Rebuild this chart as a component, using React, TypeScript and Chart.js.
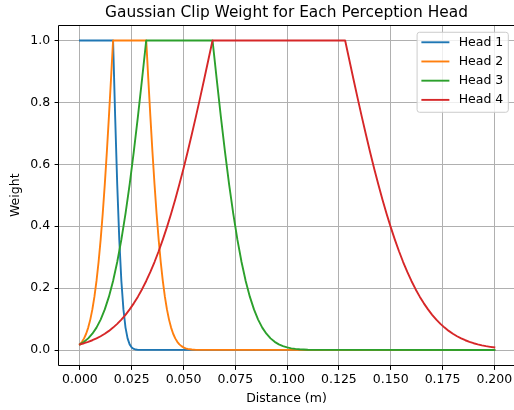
import React, { useEffect, useRef } from 'react';
import { Chart, registerables } from 'chart.js';

Chart.register(...registerables);

const chartTitle = 'Gaussian Clip Weight for Each Perception Head';
const xAxisTitle = 'Distance (m)';
const yAxisTitle = 'Weight';
const seriesLabels = ['Head 1', 'Head 2', 'Head 3', 'Head 4'];
const seriesColors = ['#1f77b4', '#ff7f0e', '#2ca02c', '#d62728'];
const xTickValues = [0, 0.025, 0.05, 0.075, 0.1, 0.125, 0.15, 0.175, 0.2];
const yTickValues = [0, 0.2, 0.4, 0.6, 0.8, 1.0];

const head1Distance = [0, 0.016, 0.017, 0.018, 0.019, 0.02, 0.021, 0.022, 0.023, 0.024, 0.025, 0.026, 0.027, 0.028, 0.2];
const head1Weight = [1, 1, 0.7548, 0.5353, 0.3566, 0.2231, 0.1312, 0.0724, 0.0376, 0.0183, 0.0084, 0.0036, 0.0015, 0.0006, 0];

const head2Distance = [
  0, 0.001, 0.002, 0.003, 0.004, 0.005, 0.006, 0.007, 0.008, 0.009, 0.01, 0.011, 0.012, 0.013, 0.014, 0.015, 0.016,
  0.032, 0.033, 0.034, 0.035, 0.036, 0.037, 0.038, 0.039, 0.04, 0.041, 0.042, 0.043, 0.044, 0.045, 0.046, 0.047,
  0.048, 0.049, 0.05, 0.051, 0.052, 0.054, 0.056, 0.2,
];
const head2Weight = [
  0.0183, 0.0264, 0.0376, 0.0526, 0.0724, 0.0982, 0.1312, 0.1724, 0.2231, 0.2843, 0.3566, 0.4403, 0.5353, 0.6406,
  0.7548, 0.8756, 1,
  1, 0.8756, 0.7548, 0.6406, 0.5353, 0.4403, 0.3566, 0.2843, 0.2231, 0.1724, 0.1312, 0.0982, 0.0724, 0.0526, 0.0376,
  0.0264, 0.0183, 0.0125, 0.0084, 0.0055, 0.0036, 0.0015, 0.0006, 0,
];

const head3Distance = [
  0, 0.002, 0.004, 0.006, 0.008, 0.01, 0.012, 0.014, 0.016, 0.018, 0.02, 0.022, 0.024, 0.026, 0.028, 0.03, 0.032,
  0.064, 0.066, 0.068, 0.07, 0.072, 0.074, 0.076, 0.078, 0.08, 0.082, 0.084, 0.086, 0.088, 0.09, 0.092, 0.094,
  0.096, 0.098, 0.1, 0.102, 0.104, 0.106, 0.108, 0.11, 0.112, 0.2,
];
const head3Weight = [
  0.0183, 0.0264, 0.0376, 0.0526, 0.0724, 0.0982, 0.1312, 0.1724, 0.2231, 0.2843, 0.3566, 0.4403, 0.5353, 0.6406,
  0.7548, 0.8756, 1,
  1, 0.8756, 0.7548, 0.6406, 0.5353, 0.4403, 0.3566, 0.2843, 0.2231, 0.1724, 0.1312, 0.0982, 0.0724, 0.0526, 0.0376,
  0.0264, 0.0183, 0.0125, 0.0084, 0.0055, 0.0036, 0.0023, 0.0015, 0.0009, 0.0006, 0,
];

const head4Distance = [
  0, 0.002, 0.004, 0.006, 0.008, 0.01, 0.012, 0.014, 0.016, 0.018, 0.02, 0.022, 0.024, 0.026, 0.028, 0.03, 0.032,
  0.034, 0.036, 0.038, 0.04, 0.042, 0.044, 0.046, 0.048, 0.05, 0.052, 0.054, 0.056, 0.058, 0.06, 0.062, 0.064,
  0.128, 0.13, 0.132, 0.134, 0.136, 0.138, 0.14, 0.142, 0.144, 0.146, 0.148, 0.15, 0.152, 0.154, 0.156, 0.158,
  0.16, 0.162, 0.164, 0.166, 0.168, 0.17, 0.172, 0.174, 0.176, 0.178, 0.18, 0.182, 0.184, 0.186, 0.188, 0.19,
  0.192, 0.194, 0.196, 0.198, 0.2,
];
const head4Weight = [
  0.0183, 0.022, 0.0264, 0.0316, 0.0376, 0.0445, 0.0526, 0.0618, 0.0724, 0.0845, 0.0982, 0.1137, 0.1312, 0.1507,
  0.1724, 0.1965, 0.2231, 0.2523, 0.2843, 0.319, 0.3566, 0.397, 0.4403, 0.4864, 0.5353, 0.5867, 0.6406, 0.6968,
  0.7548, 0.8146, 0.8756, 0.9376, 1,
  1, 0.9376, 0.8756, 0.8146, 0.7548, 0.6968, 0.6406, 0.5867, 0.5353, 0.4864, 0.4403, 0.397, 0.3566, 0.319, 0.2843,
  0.2523, 0.2231, 0.1965, 0.1724, 0.1507, 0.1312, 0.1137, 0.0982, 0.0845, 0.0724, 0.0618, 0.0526, 0.0445, 0.0376,
  0.0316, 0.0264, 0.022, 0.0183, 0.0152, 0.0125, 0.0103, 0.0084,
];

const seriesDistances = [head1Distance, head2Distance, head3Distance, head4Distance];
const seriesWeights = [head1Weight, head2Weight, head3Weight, head4Weight];

const FONT = "'DejaVu Sans', sans-serif";

const framePlugin = {
  id: 'frame',
  afterDatasetsDraw(chart: any) {
    const { ctx, chartArea: a } = chart;
    ctx.save();
    ctx.strokeStyle = '#000';
    ctx.lineWidth = 1;
    ctx.beginPath();
    const l = Math.round(a.left) - 0.5;
    const t = Math.round(a.top) + 0.5;
    const b = Math.floor(a.bottom) + 0.5;
    ctx.moveTo(a.right + 1, t);
    ctx.lineTo(l, t);
    ctx.lineTo(l, b);
    ctx.lineTo(a.right + 1, b);
    ctx.stroke();
    ctx.restore();
  },
};

const legendPlugin = {
  id: 'boxLegend',
  afterDraw(chart: any) {
    const { ctx, chartArea: a } = chart;
    const fontSize = 12.5;
    ctx.save();
    ctx.font = `${fontSize}px ${FONT}`;
    const labels = chart.data.datasets.map((d: any) => d.label);
    const textW = Math.max(...labels.map((s: string) => ctx.measureText(s).width));
    const padL = 4.3, handle = 28, gap = 9.3, padR = 5;
    const boxW = padL + handle + gap + textW + padR;
    const boxH = 80;
    const right = a.right - 5.7;
    const left = right - boxW;
    const top = a.top + 7.3;
    const r = 2.5;
    ctx.beginPath();
    ctx.moveTo(left + r, top);
    ctx.lineTo(right - r, top);
    ctx.arcTo(right, top, right, top + r, r);
    ctx.lineTo(right, top + boxH - r);
    ctx.arcTo(right, top + boxH, right - r, top + boxH, r);
    ctx.lineTo(left + r, top + boxH);
    ctx.arcTo(left, top + boxH, left, top + boxH - r, r);
    ctx.lineTo(left, top + r);
    ctx.arcTo(left, top, left + r, top, r);
    ctx.closePath();
    ctx.fillStyle = 'rgba(255,255,255,0.8)';
    ctx.fill();
    ctx.strokeStyle = '#cccccc';
    ctx.lineWidth = 1;
    ctx.stroke();
    chart.data.datasets.forEach((d: any, i: number) => {
      const cy = top + 10 + 19.2 * i;
      ctx.beginPath();
      ctx.strokeStyle = d.borderColor;
      ctx.lineWidth = 1.9;
      ctx.moveTo(left + padL, cy);
      ctx.lineTo(left + padL + handle, cy);
      ctx.stroke();
      ctx.fillStyle = '#000';
      ctx.textBaseline = 'middle';
      ctx.textAlign = 'left';
      ctx.fillText(d.label, left + padL + handle + gap, cy);
    });
    ctx.restore();
  },
};

export default function App() {
  const canvasRef = useRef<HTMLCanvasElement | null>(null);

  useEffect(() => {
    document.body.style.margin = '0';
    Chart.defaults.font.family = FONT;
    Chart.defaults.color = '#000';
    const canvas = canvasRef.current;
    if (!canvas) return;

    const datasets = seriesLabels.map((label, i) => ({
      label,
      data: seriesDistances[i].map((x, j) => ({ x, y: seriesWeights[i][j] })),
      borderColor: seriesColors[i],
      backgroundColor: seriesColors[i],
      borderWidth: 1.9,
      pointRadius: 0,
      pointHoverRadius: 0,
      fill: false,
      tension: 0,
      borderJoinStyle: 'round' as const,
      borderCapStyle: 'square' as const,
      order: seriesLabels.length - 1 - i,
    }));

    const chart = new Chart(canvas, {
      type: 'line',
      data: { datasets },
      plugins: [framePlugin, legendPlugin],
      options: {
        responsive: false,
        animation: false,
        events: [],
        layout: { padding: 0 },
        plugins: {
          legend: { display: false },
          tooltip: { enabled: false },
          title: {
            display: true,
            fullSize: false,
            text: chartTitle,
            color: '#000',
            font: { size: 15.4, weight: 'normal', family: FONT, lineHeight: 1.2 },
            padding: { top: 3.3, bottom: 3.2 },
          },
        },
        scales: {
          x: {
            type: 'linear',
            min: -0.0101,
            max: 0.2095,
            afterBuildTicks: (s: any) => {
              s.ticks = xTickValues.map((v) => ({ value: v }));
            },
            afterFit: (s: any) => {
              s.height = 44.5;
              s.paddingLeft = 0;
              s.paddingRight = 0;
            },
            ticks: {
              autoSkip: false,
              maxRotation: 0,
              minRotation: 0,
              padding: 2.5,
              color: '#000',
              font: { size: 12.5, family: FONT },
              callback: (v: any) => Number(v).toFixed(3),
            },
            grid: {
              color: '#b0b0b0',
              lineWidth: 1,
              drawTicks: true,
              tickLength: 4.4,
              tickColor: '#000',
              tickWidth: 1,
            },
            border: { display: false },
            title: {
              display: true,
              text: xAxisTitle,
              color: '#000',
              font: { size: 12.5, family: FONT, lineHeight: 1.2 },
              padding: { top: 0, bottom: 4 },
            },
          },
          y: {
            type: 'linear',
            min: -0.05,
            max: 1.05,
            afterBuildTicks: (s: any) => {
              s.ticks = yTickValues.map((v) => ({ value: v }));
            },
            afterFit: (s: any) => {
              s.width = 59;
              s.paddingTop = 0;
              s.paddingBottom = 0;
            },
            ticks: {
              autoSkip: false,
              padding: 4.4,
              color: '#000',
              font: { size: 12.5, family: FONT },
              callback: (v: any) => Number(v).toFixed(1),
            },
            grid: {
              color: '#b0b0b0',
              lineWidth: 1,
              drawTicks: true,
              tickLength: 4.4,
              tickColor: '#000',
              tickWidth: 1,
            },
            border: { display: false },
            title: {
              display: true,
              text: yAxisTitle,
              color: '#000',
              font: { size: 12.5, family: FONT, lineHeight: 1.2 },
              padding: { top: 8.5, bottom: 0 },
            },
          },
        },
      },
    } as any);

    return () => chart.destroy();
  }, []);

  return (
    <div style={{ width: 514, height: 410, position: 'relative' }}>
      <canvas ref={canvasRef} width={514} height={410} style={{ display: 'block' }} />
    </div>
  );
}
